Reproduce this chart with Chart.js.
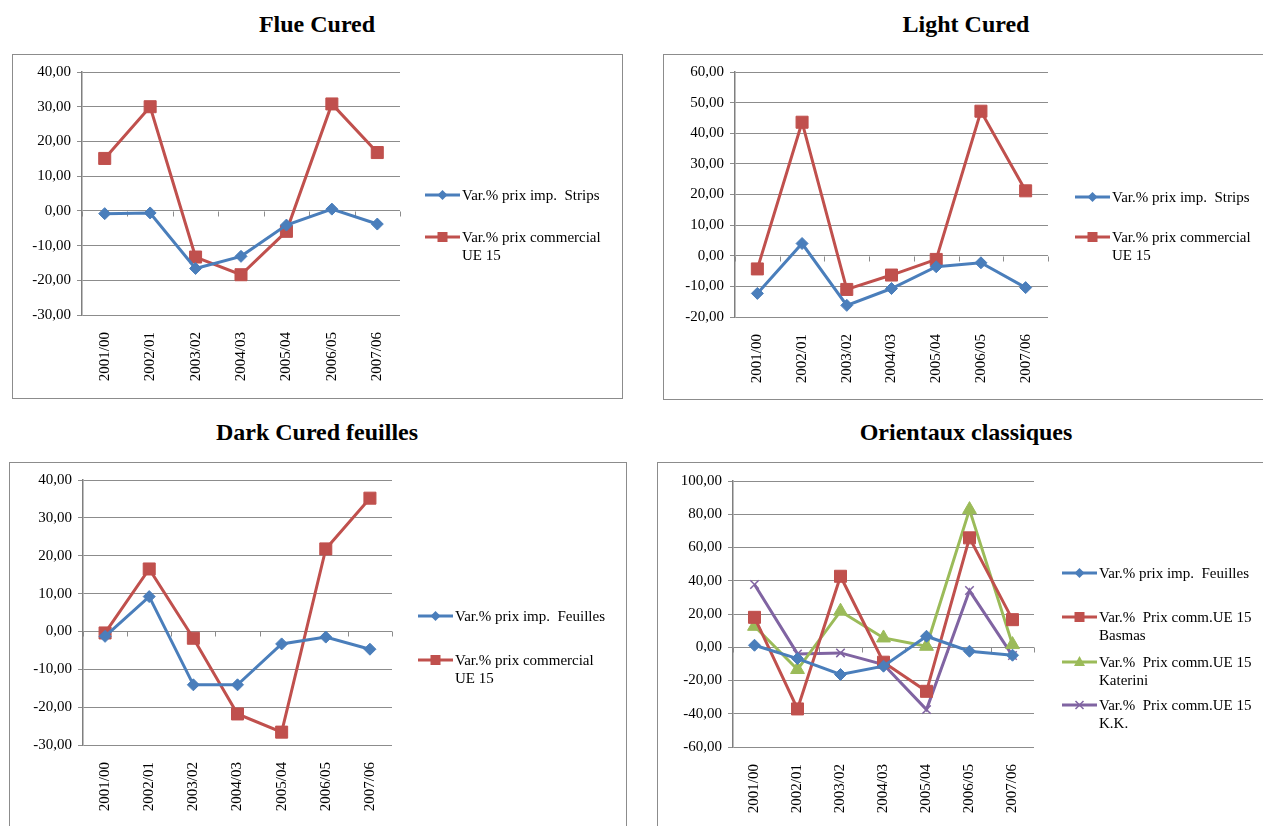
<!DOCTYPE html>
<html>
<head>
<meta charset="utf-8">
<script src="https://cdn.jsdelivr.net/npm/chart.js@4.4.0/dist/chart.umd.min.js"></script>
<style>
  html, body { margin: 0; padding: 0; background: #fff; width: 1263px; height: 826px; overflow: hidden; }
  body { position: relative; font-family: 'Liberation Serif', 'Times New Roman', serif; color: #000; }
  .title { position: absolute; width: 400px; text-align: center; font-weight: bold; font-size: 24px; line-height: 28px; }
  .box { position: absolute; border: 1px solid #8c8c8c; box-sizing: border-box; overflow: hidden; }
  .box canvas { position: absolute; left: 0; top: 0; }
  .item { position: absolute; height: 18px; font-size: 15px; line-height: 18px; white-space: pre; }
  .item svg { position: absolute; left: 0; top: 0; }
  .item span { position: absolute; left: 37px; top: 0; }
</style>
</head>
<body>

<div class="title" style="left:117px; top:10px;">Flue Cured</div>
<div class="title" style="left:766px; top:10px;">Light Cured</div>
<div class="title" style="left:117px; top:418px;">Dark Cured feuilles</div>
<div class="title" style="left:766px; top:418px;">Orientaux classiques</div>

<div class="box" style="left:12px; top:54px; width:611px; height:345px;"><canvas id="c1" width="609" height="343"></canvas></div>
<div class="box" style="left:663px; top:54px; width:640px; height:346px;"><canvas id="c2" width="620" height="344"></canvas></div>
<div class="box" style="left:9px; top:462px; width:618px; height:400px;"><canvas id="c3" width="616" height="370"></canvas></div>
<div class="box" style="left:657px; top:462px; width:640px; height:400px;"><canvas id="c4" width="620" height="370"></canvas></div>

<script>
const categories = ['2001/00', '2002/01', '2003/02', '2004/03', '2005/04', '2006/05', '2007/06'];

const flueStrips = [-0.8, -0.6, -16.6, -13.1, -4.1, 0.5, -3.8];
const flueCommercial = [15.1, 30.0, -13.3, -18.4, -5.9, 30.8, 16.8];

const lightStrips = [-12.3, 4.0, -16.2, -10.7, -3.6, -2.3, -10.4];
const lightCommercial = [-4.3, 43.6, -11.0, -6.3, -1.2, 47.2, 21.2];

const darkFeuilles = [-1.3, 9.2, -14.1, -14.1, -3.3, -1.5, -4.7];
const darkCommercial = [-0.4, 16.5, -1.8, -21.8, -26.6, 21.8, 35.2];

const orientFeuilles = [1.2, -6.8, -16.4, -11.4, 6.6, -2.4, -4.8];
const orientBasmas = [18.0, -37.1, 42.7, -9.0, -26.5, 65.8, 16.6];
const orientKaterini = [12.6, -13.4, 21.7, 5.6, 0.6, 82.8, 1.6];
const orientKK = [37.7, -4.0, -3.4, -10.4, -37.5, 34.1, -5.0];

const flueTicks = [-30, -20, -10, 0, 10, 20, 30, 40];
const lightTicks = [-20, -10, 0, 10, 20, 30, 40, 50, 60];
const darkTicks = [-30, -20, -10, 0, 10, 20, 30, 40];
const orientTicks = [-60, -40, -20, 0, 20, 40, 60, 80, 100];

const labelStrips = 'Var.% prix imp.  Strips';
const labelFeuilles = 'Var.% prix imp.  Feuilles';
const labelCommercial = 'Var.% prix commercial\nUE 15';
const labelBasmas = 'Var.%  Prix comm.UE 15\nBasmas';
const labelKaterini = 'Var.%  Prix comm.UE 15\nKaterini';
const labelKK = 'Var.%  Prix comm.UE 15\nK.K.';

// marker styles (Excel 2007 palette)
const BLUE = { color: '#4a7ebb', point: 'rectRot', radius: 6 };
const RED = { color: '#c0504d', point: 'rect', radius: 8.5 };
const GREEN = { color: '#9bbb59', point: 'triangle', radius: 8 };
const PURPLE = { color: '#8064a2', point: 'crossRot', radius: 6 };

const GRID = '#8c8c8c';

Chart.defaults.font.family = 'Liberation Serif';
Chart.defaults.font.size = 15;
Chart.defaults.color = '#000';

function series(label, data, st) {
  return {
    label,
    data,
    borderColor: st.color,
    backgroundColor: st.color,
    borderWidth: 3,
    tension: 0,
    fill: false,
    pointStyle: st.point,
    pointRadius: st.radius,
    pointBackgroundColor: st.color,
    pointBorderColor: st.color,
    pointBorderWidth: st.point === 'crossRot' ? 1.5 : 1,
    _style: st
  };
}

// small tick marks hanging below the 0 line at category boundaries
const zeroTicks = {
  id: 'zeroTicks',
  beforeDatasetsDraw(chart) {
    const x = chart.scales.x, y = chart.scales.y;
    const y0 = Math.round(y.getPixelForValue(0)) + 0.5;
    const ctx = chart.ctx;
    ctx.save();
    ctx.strokeStyle = GRID;
    ctx.lineWidth = 1;
    ctx.beginPath();
    for (let i = 0; i <= categories.length; i++) {
      const px = Math.round(x.getPixelForValue(i - 0.5)) + 0.5;
      ctx.moveTo(px, y0);
      ctx.lineTo(px, y0 + 5);
    }
    ctx.stroke();
    ctx.restore();
  }
};

function fmt(v) {
  return v.toFixed(2).replace('.', ',');
}

function makeChart(id, datasets, ticks, plot) {
  const canvas = document.getElementById(id);
  const W = canvas.width, H = canvas.height;
  return new Chart(canvas, {
    type: 'line',
    data: { labels: categories, datasets },
    options: {
      responsive: false,
      animation: false,
      devicePixelRatio: 1,
      layout: { padding: { top: plot.top, right: W - plot.right, left: 0, bottom: 0 } },
      plugins: { legend: { display: false }, tooltip: { enabled: false } },
      scales: {
        x: {
          offset: true,
          grid: { display: false, drawTicks: false },
          border: { display: false },
          ticks: {
            color: '#000',
            font: { family: 'Liberation Serif', size: 15 },
            minRotation: 90,
            maxRotation: 90,
            padding: 17,
            autoSkip: false
          },
          afterFit(scale) { scale.height = H - plot.bottom; }
        },
        y: {
          min: ticks[0],
          max: ticks[ticks.length - 1],
          grid: { color: GRID, lineWidth: 1, drawTicks: true, tickLength: 5 },
          border: { display: true, color: '#7f7f7f', width: 1.5 },
          ticks: {
            stepSize: ticks[1] - ticks[0],
            color: '#000',
            font: { family: 'Liberation Serif', size: 15 },
            padding: 6,
            callback: v => fmt(v)
          },
          afterFit(scale) { scale.width = plot.left; }
        }
      }
    },
    plugins: [zeroTicks]
  });
}

function markerSvg(st) {
  const c = st.color, cx = 17.5, cy = 9;
  let m = '';
  if (st.point === 'rectRot') m = `<polygon points="${cx},${cy-5} ${cx+5},${cy} ${cx},${cy+5} ${cx-5},${cy}" fill="${c}"/>`;
  else if (st.point === 'rect') m = `<rect x="${cx-5}" y="${cy-5}" width="10" height="10" fill="${c}"/>`;
  else if (st.point === 'triangle') m = `<polygon points="${cx},${cy-6} ${cx+5.5},${cy+4} ${cx-5.5},${cy+4}" fill="${c}"/>`;
  else m = `<path d="M${cx-4},${cy-4}L${cx+4},${cy+4}M${cx+4},${cy-4}L${cx-4},${cy+4}" stroke="${c}" stroke-width="1.5"/>`;
  return `<svg width="36" height="18"><line x1="0" y1="9" x2="35" y2="9" stroke="${c}" stroke-width="3"/>${m}</svg>`;
}

function legend(datasets, x, ys) {
  datasets.forEach((ds, i) => {
    const d = document.createElement('div');
    d.className = 'item';
    d.style.left = x + 'px';
    d.style.top = (ys[i] - 9) + 'px';
    d.innerHTML = markerSvg(ds._style);
    const s = document.createElement('span');
    s.textContent = ds.label;
    d.appendChild(s);
    document.body.appendChild(d);
  });
}

const ds1 = [series(labelStrips, flueStrips, BLUE), series(labelCommercial, flueCommercial, RED)];
const ds2 = [series(labelStrips, lightStrips, BLUE), series(labelCommercial, lightCommercial, RED)];
const ds3 = [series(labelFeuilles, darkFeuilles, BLUE), series(labelCommercial, darkCommercial, RED)];
const ds4 = [
  series(labelFeuilles, orientFeuilles, BLUE),
  series(labelBasmas, orientBasmas, RED),
  series(labelKaterini, orientKaterini, GREEN),
  series(labelKK, orientKK, PURPLE)
];

legend(ds1, 425, [195, 237]);
legend(ds2, 1075, [197, 237]);
legend(ds3, 418, [616, 660]);
legend(ds4, 1062, [573, 617, 662, 705]);

makeChart('c1', ds1, flueTicks, { left: 69, top: 17, right: 387, bottom: 260 });
makeChart('c2', ds2, lightTicks, { left: 71, top: 17, right: 384, bottom: 262 });
makeChart('c3', ds3, darkTicks, { left: 73, top: 17, right: 382, bottom: 282 });
makeChart('c4', ds4, orientTicks, { left: 75, top: 18, right: 376, bottom: 284 });
</script>
</body>
</html>
